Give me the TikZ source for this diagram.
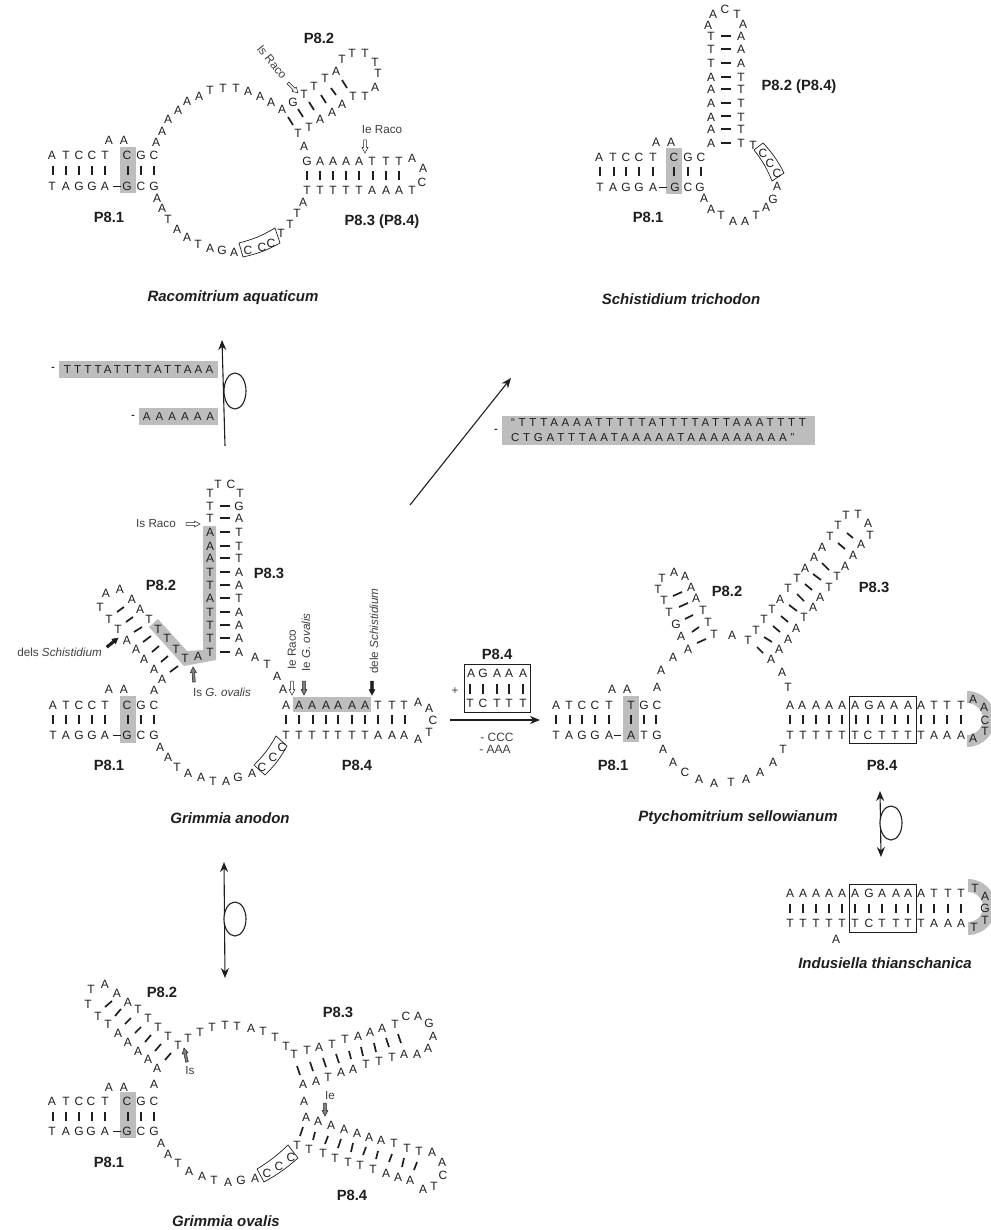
\documentclass[tikz,border=0pt]{standalone}
\usepackage{fontspec}
\setmainfont{Liberation Sans}
\usetikzlibrary{arrows.meta}
\definecolor{gband}{HTML}{BDBDBD}
\definecolor{ink}{HTML}{1E1E1E}
\tikzset{
 nt/.style={inner sep=0pt,text=ink,font=\fontsize{12}{12}\selectfont},
 lab/.style={inner sep=0pt,text=ink,font=\fontsize{14.8}{15}\selectfont\bfseries},
 ttl/.style={inner sep=0pt,text=ink,font=\fontsize{15}{15}\selectfont\bfseries\itshape},
 sm/.style={inner sep=0pt,text=ink!85,font=\fontsize{11.7}{12}\selectfont},
 barv/.style={line width=1.9pt,draw=ink},
 bart/.style={line width=1.7pt,draw=ink},
 thinl/.style={line width=.6pt,draw=ink},
 bigarr/.style={line width=1.1pt,draw=ink,-{Stealth[length=10pt,width=8pt]}},
 bigdbl/.style={line width=1.1pt,draw=ink,{Stealth[length=10pt,width=8pt]}-{Stealth[length=10pt,width=8pt]}},
 oval/.style={line width=1.1pt,draw=ink,fill=white},
 boxl/.style={line width=.7pt,draw=ink},
 band/.style={fill=gband,inner sep=0pt,text=ink}
}
\newcommand\seq[1]{\foreach \x/\y/\t in {#1}{\node[nt] (n\x-\y) at (\x,\y) {\t};}}
\newcommand\rowat[2]{\foreach \x/\t in {#2}{\node[nt] (n\x-#1) at (\x,#1) {\t};}}
\newcommand\vbars[3]{\foreach \x in {#3}{\draw[barv] (\x,#1) -- (\x,#2);}}
\newcommand\hbars[3]{\foreach \y in {#3}{\draw[barv,line width=1.7pt] (#1,\y) -- (#2,\y);}}
\newcommand\tbars[1]{\foreach \a/\b/\c/\d in {#1}{\draw[bart] (\a,\b) -- (\c,\d);}}
\newcommand\harr[5]{\begin{scope}[shift={(#1,#2)}]
 \pgfmathsetmacro\arrang{atan2(-(#4-#2),#3-#1)}
 \pgfmathsetmacro\arrlen{veclen(#3-#1,#4-#2)}
 \draw[line width=.5pt,draw=ink,fill=#5,rotate=\arrang] (0pt,-1.3pt) -- (\arrlen pt-5.5pt,-1.3pt) -- (\arrlen pt-5.5pt,-3pt) -- (\arrlen pt,0pt) -- (\arrlen pt-5.5pt,3pt) -- (\arrlen pt-5.5pt,1.3pt) -- (0pt,1.3pt) -- cycle;
 \end{scope}}
\begin{document}
\begin{tikzpicture}[x=1pt,y=-1pt]
\useasboundingbox (0,0) rectangle (990,1230);
% ---------- Racomitrium
\fill[gband] (120,147) rectangle (136,193);
\rowat{155}{52/A,66/T,79/C,92/C,105/T,127/C,141/G,154/C}
\rowat{186}{52/T,66/A,79/G,92/G,105/A,127/G,141/C,154/G}
\vbars{166}{175}{53,66,79,92,105,128,141,154}
\draw[thinl] (113,186) -- (121,186);
\seq{109/140/A,124/140/A,156/142/A,162/131/A,168/119/A,178/110/A,187/101/A,199/96/A,210/90/T,223/88/T,236/88/T,248/91/A,260/96/A,271/102/A,282/109/A,293/102/G,304/94/T,314/86/T,325/78/T,336/71/A,342/59/T,352/53/T,365/53/T,375/62/T,378/73/T,375/87/A,365/96/T,353/96/T,342/104/A,332/112/A,320/119/A,309/127/T,298/133/T,304/146/A,412/158/A,423/168/A,422/182/C,412/190/T,303/202/A,297/213/T,290/224/T,281/233/T,271/243/C,262/247/C,248/250/C,234/252/A,222/250/G,210/248/A,198/244/T,187/237/A,177/229/A,168/219/T,162/208/A,157/198/A}
\rowat{161}{307/G,320/A,333/A,346/A,359/A,372/T,386/T,399/T}
\rowat{190}{307/T,320/T,333/T,346/T,359/T,372/A,386/A,399/A}
\vbars{171}{180}{307,320,333,346,359,373,386,399}
\tbars{288/117/293/125,298/109/303/117,309/102/314/110,321/95/326/103,331/88/336/95,342/80/347/88}
\draw[boxl] (239,243) to[bend right=8] (275,228) -- (280,243) to[bend left=8] (243,257) -- cycle;
\node[sm,rotate=-51] (isr1) at (272,62) {Is Raco};
\harr{288}{83}{298}{93}{white}
\node[sm] (ier1) at (382,130) {Ie Raco};
\harr{365}{140}{365}{153}{white}
\node[lab] (a1) at (109,217) {P8.1};
\node[lab] (a2) at (319,38) {P8.2};
\node[lab] (a3) at (382,222) {P8.3 (P8.4)};
\node[ttl] (t1) at (233,298) {Racomitrium aquaticum};
% ---------- Schistidium
\fill[gband] (666,148) rectangle (682,194);
\rowat{157}{599/A,613/T,626/C,639/C,653/T,674/C,688/G,701/C}
\rowat{187}{600/T,613/A,626/G,639/G,653/A,675/G,688/C,700/G}
\vbars{167}{176}{600,614,626,639,653,674,688,701}
\draw[thinl] (659,187) -- (667,187);
\seq{656/142/A,671/142/A,708/25/A,713/14/A,725/9/C,737/14/T,743/24/A,753/145/T,763/153/C,770/163/C,777/173/C,777/186/A,773/199/G,766/207/A,756/215/T,745/221/A,733/221/A,721/215/T,711/209/A,704/198/A}
\foreach \y/\l/\r in {36/T/A,49/T/A,63/T/A,77/A/T,89/A/T,103/A/T,117/A/T,129/A/T,143/A/T}{
 \node[nt] (l\y) at (711,\y) {\l}; \node[nt] (r\y) at (741,\y) {\r};}
\hbars{721}{731}{36,49,63,77,89,103,116,129,143}
\draw[boxl] (754,150) -- (763,143) to[bend left=8] (784,173) -- (772,181) to[bend right=8] (754,150) -- cycle;
\node[lab] (b1) at (648,217) {P8.1};
\node[lab] (b2) at (799,87) {P8.2 (P8.4)};
\node[ttl] (t2) at (681,299) {Schistidium trichodon};
% ---------- deletion bands
\coordinate (upB) at (225,446); \coordinate (upT) at (222,340);
\draw[bigarr] (upB) -- (upT);
\draw[oval] (235,391) ellipse [x radius=11pt,y radius=18pt];
\node[band,minimum width=159pt,minimum height=17pt,font=\fontsize{11.5}{12}\selectfont\addfontfeatures{LetterSpace=28}] (d1) at (138.5,369.5) {TTTTATTTTATTAAA};
\node[band,minimum width=79pt,minimum height=17pt,font=\fontsize{11.5}{12}\selectfont\addfontfeatures{LetterSpace=44}] (d2) at (178.5,416.5) {AAAAAA};
\node[nt,font=\bfseries] (m1) at (53,369) {-};
\node[nt,font=\bfseries] (m2) at (133,417) {-};
\coordinate (diagB) at (410,505); \coordinate (diagT) at (511,378);
\draw[bigarr] (diagB) -- (diagT);
\node[band,minimum width=313pt,minimum height=29pt,align=left,font=\fontsize{11.5}{15}\selectfont\addfontfeatures{LetterSpace=33}] (d3) at (658.5,430.5) {“TTTAAAATTTTTATTTTATTAAATTTT\\ CTGATTTAATAAAAATAAAAAAAAA”};
\node[nt,font=\bfseries] (m3) at (496,431) {-};
% ---------- Grimmia anodon
\fill[gband] (120,696) rectangle (136,743);
\fill[gband] (149,627) -- (158,619) -- (187,651) -- (203,650) -- (203,526) -- (216,526) -- (216,660) -- (184,666) -- cycle;
\fill[gband] (293,697) rectangle (371,712);
\rowat{705}{53/A,66/T,79/C,92/C,105/T,127/C,141/G,154/C,286/A,299/A,312/A,326/A,338/A,352/A,365/A,378/T,392/T,404/T}
\rowat{735}{53/T,66/A,79/G,92/G,105/A,127/G,141/C,154/G,286/T,299/T,312/T,326/T,338/T,352/T,365/T,378/A,392/A,404/A}
\vbars{715}{724}{53,66,79,92,105,128,141,154,286,299,313,326,338,352,365,378,392,405}
\draw[thinl] (113,735) -- (121,735);
\seq{109/689/A,124/689/A,154/690/A,162/679/A,154/669/A,144/659/A,136/649/A,127/640/A,118/629/T,109/619/T,100/607/T,106/593/A,120/589/A,132/599/A,140/609/A,149/619/T,158/629/T,167/638/T,176/649/T,185/658/T,198/656/A,218/484/T,231/484/C,255/657/A,267/664/T,277/676/A,283/689/A,418/702/A,429/708/A,433/720/C,429/732/T,418/739/A,160/747/A,168/757/A,177/767/T,188/773/A,201/777/A,213/781/T,226/781/A,238/777/G,252/773/A,262/767/C,273/757/C,282/747/C}
\seq{210/493/T,210/506/T,210/518/T,210/532/A,210/546/A,210/558/A,210/572/T,210/585/T,210/598/A,210/612/T,210/625/T,210/638/T,210/652/T}
\seq{240/493/T,239/506/G,239/518/A,239/532/T,239/546/T,239/558/T,239/572/A,239/585/A,239/598/T,239/612/A,239/625/A,239/638/A,239/652/A}
\hbars{220}{230}{506,518,532,546,558,572,585,598,612,625,638,652}
\tbars{117/612/124/607,126/622/133/617,134/632/142/627,143/642/151/636,152/652/159/646,161/662/168/656,170/672/178/666}
\draw[boxl] (254,765) to[bend right=8] (276,736) -- (287,746) to[bend left=8] (265,775) -- cycle;
\node[sm] (isr2) at (156,524) {Is Raco};
\harr{186}{524}{200}{524}{white}
\node[sm,anchor=east] (dels) at (102,652) {dels \textit{Schistidium}};
\harr{107}{647}{118}{638}{ink}
\node[sm] (isg) at (222,692) {Is \textit{G. ovalis}};
\harr{194}{682}{193}{667}{gray}
\node[sm,rotate=90,anchor=west] (ier2) at (292,670) {Ie Raco};
\node[sm,rotate=90,anchor=west] (ieg) at (306,672) {Ie \textit{G. ovalis}};
\node[sm,rotate=90,anchor=west] (dele) at (374,674) {dele \textit{Schistidium}};
\harr{292}{681}{292}{695}{white}
\harr{304}{681}{304}{695}{gray}
\harr{372}{681}{372}{695}{ink}
\node[lab] (c1) at (109,765) {P8.1};
\node[lab] (c2) at (161,585) {P8.2};
\node[lab] (c3) at (269,573) {P8.3};
\node[lab] (c4) at (357,765) {P8.4};
\node[ttl] (t3) at (230,818) {Grimmia anodon};
% ---------- insert box and main arrow
\node[lab] (e4) at (497,654) {P8.4};
\draw[line width=.9pt,draw=ink] (464,664) rectangle (530,712);
\rowat{673}{471/A,483/G,497/A,509/A,523/A}
\rowat{703}{470/T,483/C,497/T,509/T,523/T}
\vbars{684}{694}{470,483,497,509,523}
\node[sm] (plus) at (455,691) {+};
\coordinate (mainL) at (450,720); \coordinate (mainR) at (540,720);
\draw[bigarr] (mainL) -- (mainR);
\node[sm,font=\fontsize{12}{12}\selectfont] (mc) at (497,737) {- CCC};
\node[sm,font=\fontsize{12}{12}\selectfont] (ma) at (495,749) {- AAA};
% ---------- Ptychomitrium
\fill[gband] (623,696) rectangle (639,742);
\fill[gband] (967,691) arc[start angle=90,end angle=-90,radius=28pt] -- (967,735) arc[start angle=-90,end angle=90,radius=16pt] -- cycle;
\rowat{705}{556/A,569/T,582/C,595/C,609/T,631/T,644/G,657/C,790/A,802/A,816/A,829/A,842/A,855/A,869/G,881/A,894/A,908/A,921/A,934/T,947/T,961/T}
\rowat{735}{556/T,569/A,582/G,595/G,609/A,631/A,644/T,657/G,790/T,803/T,816/T,829/T,842/T,855/T,868/C,882/T,895/T,908/T,921/T,934/A,947/A,961/A}
\vbars{715}{724}{556,570,582,595,609,631,644,656,790,803,816,829,842,856,868,882,895,908,921,934,947,961}
\draw[thinl] (614,735) -- (621,735);
\draw[boxl] (849,696) rectangle (916,743);
\seq{612/689/A,627/689/A,657/687/A,661/670/A,673/657/A,688/649/A,681/636/A,676/624/G,669/612/T,664/600/T,658/589/T,662/578/T,674/572/A,685/576/A,691/587/A,696/598/A,703/610/T,708/622/T,714/634/T,732/635/A,748/640/T,756/630/T,764/619/T,772/609/T,780/599/A,788/588/T,797/578/T,805/568/A,814/557/A,822/547/A,830/536/T,838/525/T,846/515/T,858/514/T,868/523/A,870/535/T,861/544/A,853/555/A,845/566/A,837/576/T,829/587/T,820/597/A,813/607/A,804/617/T,796/628/A,788/639/A,779/649/A,771/659/A,782/672/A,788/687/T,973/699/A,984/707/A,985/720/C,985/731/T,973/738/A,663/749/A,673/762/A,685/772/C,699/779/A,714/783/A,731/782/T,746/779/A,760/772/A,773/762/A,783/749/T}
\tbars{697/643/706/639,692/632/699/627,685/619/693/615,679/607/688/603,673/596/682/592,757/647/763/653,764/637/772/642,773/626/780/632,781/616/788/622,789/605/797/611,797/594/804/601,805/584/812/590,813/574/821/580,822/563/829/570,838/543/845/549,847/533/853/538}
\node[lab] (f1) at (613,765) {P8.1};
\node[lab] (f2) at (727,591) {P8.2};
\node[lab] (f3) at (874,587) {P8.3};
\node[lab] (f4) at (882,765) {P8.4};
\node[ttl] (t4) at (738,818) {Ptychomitrium sellowianum};
% ---------- arrow to Indusiella
\coordinate (indT) at (880,791); \coordinate (indB) at (881,857);
\draw[bigdbl] (indT) -- (indB);
\draw[oval] (891,823) ellipse [x radius=11pt,y radius=17pt];
\fill[gband] (968,879) arc[start angle=90,end angle=-90,radius=28pt] -- (968,922) arc[start angle=-90,end angle=90,radius=15pt] -- cycle;
\rowat{893}{790/A,803/A,816/A,829/A,842/A,855/A,869/G,882/A,896/A,908/A,921/A,934/T,948/T,961/T}
\rowat{923}{790/T,803/T,816/T,829/T,842/T,855/T,869/C,882/T,896/T,908/T,921/T,934/A,948/A,961/A}
\vbars{904}{913}{790,803,816,829,842,855,869,882,896,908,921,934,948,961}
\draw[boxl] (849,884) rectangle (916,932);
\seq{975/888/T,985/896/A,985/908/G,985/920/T,974/927/T,836/939/A}
\node[ttl] (t5) at (885,963) {Indusiella thianschanica};
% ---------- arrow to Grimmia ovalis
\coordinate (ovT) at (224,862); \coordinate (ovB) at (225,978);
\draw[bigdbl] (ovT) -- (ovB);
\draw[oval] (235,919) ellipse [x radius=11pt,y radius=17pt];
% ---------- Grimmia ovalis
\fill[gband] (120,1092) rectangle (136,1138);
\rowat{1101}{52/A,66/T,79/C,91/C,105/T,127/C,141/G,154/C}
\rowat{1131}{52/T,66/A,79/G,91/G,105/A,127/G,141/C,154/G}
\vbars{1112}{1121}{53,66,79,92,105,128,141,154}
\draw[thinl] (113,1131) -- (121,1131);
\seq{109/1087/A,124/1087/A,154/1084/A,157/1068/A,148/1059/A,138/1051/A,128/1042/A,118/1033/A,108/1024/T,98/1016/T,88/1004/T,91/989/T,105/984/A,117/993/A,128/1002/A,138/1009/T,148/1018/T,158/1027/T,168/1036/T,178/1045/T,188/1038/T,200/1032/T,212/1027/T,225/1025/T,237/1026/T,251/1028/A,263/1031/T,275/1037/T,286/1046/T,294/1054/T,307/1050/T,319/1047/A,332/1044/T,345/1039/T,358/1036/A,370/1032/A,382/1028/A,395/1024/T,406/1016/C,418/1016/A,429/1023/G,433/1036/A,428/1048/A,417/1054/A,404/1054/A,392/1057/T,379/1061/T,366/1064/T,353/1069/A,341/1072/A,328/1077/T,316/1081/A,303/1084/A,304/1101/A,306/1117/A,318/1121/A,331/1125/A,344/1129/A,357/1133/A,369/1137/A,381/1140/A,394/1143/T,407/1148/T,419/1151/T,432/1152/A,442/1162/A,443/1175/C,434/1186/T,423/1189/A,410/1180/A,398/1177/A,386/1173/A,373/1169/T,360/1165/T,348/1162/T,335/1158/T,323/1153/T,309/1149/T,297/1145/T,291/1157/C,279/1166/C,267/1173/C,255/1178/A,241/1180/G,228/1182/A,214/1180/T,202/1176/A,189/1171/A,178/1163/T,168/1154/A,161/1143/A}
\tbars{165/1060/171/1053,155/1051/161/1044,145/1042/151/1035,135/1033/141/1027,125/1024/131/1018,115/1016/121/1009,105/1007/112/1001,297/1066/300/1075,310/1062/313/1071,323/1058/326/1067,336/1054/339/1063,349/1051/351/1059,361/1047/363/1056,374/1043/376/1052,386/1038/389/1047,398/1034/401/1043,303/1127/300/1136,315/1132/313/1140,328/1136/325/1144,341/1139/338/1148,353/1143/351/1152,366/1147/363/1155,378/1151/376/1159,392/1154/389/1162,404/1158/402/1167,417/1162/414/1170}
\draw[boxl] (257,1169) to[bend right=6] (288,1145) -- (298,1158) to[bend left=6] (264,1182) -- cycle;
\node[sm] (is3) at (190,1071) {Is};
\harr{187}{1062}{184}{1048}{gray}
\node[sm] (ie3) at (330,1096) {Ie};
\harr{325}{1103}{325}{1116}{gray}
\node[lab] (g1) at (109,1162) {P8.1};
\node[lab] (g2) at (162,992) {P8.2};
\node[lab] (g3) at (338,1012) {P8.3};
\node[lab] (g4) at (352,1195) {P8.4};
\node[ttl] (t6) at (226,1221) {Grimmia ovalis};
\end{tikzpicture}
\end{document}
